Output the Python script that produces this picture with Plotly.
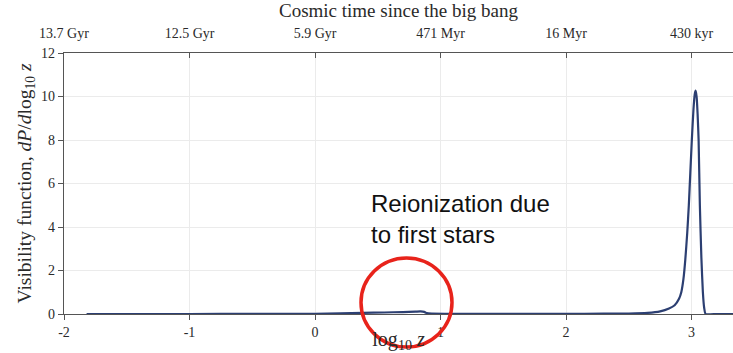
import plotly.graph_objects as go

# Visibility function vs log10 redshift
log_z = [-1.82, -1.5, -1.0, -0.5, 0.0, 0.2, 0.38, 0.55, 0.7, 0.8, 0.84, 0.87, 0.89, 0.93, 1.2, 1.5,
         2.0, 2.3, 2.5, 2.65, 2.75, 2.82, 2.865, 2.9, 2.918, 2.935, 2.95, 2.965, 2.978, 2.99,
         3.002, 3.015, 3.025, 3.032, 3.04, 3.048, 3.056, 3.066, 3.078, 3.09, 3.1, 3.112,
         3.2, 3.33]
visibility = [0.0, 0.0, 0.0, 0.005, 0.01, 0.03, 0.05, 0.07, 0.09, 0.11, 0.12, 0.1, 0.04, 0.02, 0.01, 0.01,
              0.01, 0.015, 0.02, 0.05, 0.12, 0.25, 0.4, 0.7, 1.0, 1.6, 2.5, 3.7, 5.0, 6.5,
              8.0, 9.4, 10.1, 10.27, 10.0, 9.2, 8.0, 5.0, 2.6, 1.0, 0.3, 0.0,
              0.0, 0.0]

# Axis ticks: redshift on the bottom, cosmic time on top
z_ticks = [-2, -1, 0, 1, 2, 3]
time_labels = ["13.7 Gyr", "12.5 Gyr", "5.9 Gyr", "471 Myr", "16 Myr", "430 kyr"]
y_ticks = [0, 2, 4, 6, 8, 10, 12]

x_range = [-2, 3.33]
serif = "Liberation Serif"
axis_col = "#555555"
grid_col = "#ebebeb"
text_col = "#2a2a2a"

fig = go.Figure()
fig.add_trace(go.Scatter(
    x=log_z, y=visibility, mode="lines",
    line=dict(color="#2c3f72", width=2.2, shape="spline", smoothing=0.5),
    showlegend=False, hoverinfo="skip",
))
# invisible trace to activate the top axis
fig.add_trace(go.Scatter(x=[x_range[0]], y=[0], xaxis="x2", mode="markers",
                         marker=dict(opacity=0), showlegend=False, hoverinfo="skip"))

fig.update_layout(
    width=733, height=353,
    margin=dict(l=64, r=0, t=53, b=39),
    plot_bgcolor="white", paper_bgcolor="white",
    font=dict(family=serif, color=text_col),
    xaxis=dict(
        range=x_range, tickvals=z_ticks, ticktext=[str(v) for v in z_ticks],
        showgrid=True, gridcolor=grid_col, gridwidth=1, zeroline=False,
        showline=True, linecolor=axis_col, linewidth=1.2,
        ticks="outside", ticklen=5, tickcolor=axis_col, automargin=False,
        tickfont=dict(size=14, family=serif),
        title=dict(text="log<sub>10</sub> <i>z</i>", font=dict(size=20, family=serif), standoff=2),
    ),
    xaxis2=dict(
        overlaying="x", side="top", range=x_range,
        tickvals=z_ticks, ticktext=time_labels,
        showgrid=False, zeroline=False,
        showline=True, linecolor=axis_col, linewidth=1.2,
        ticks="inside", ticklen=5, tickcolor=axis_col, automargin=False,
        ticklabelstandoff=8,
        tickfont=dict(size=14, family=serif),
        title=dict(text="Cosmic time since the big bang", font=dict(size=19, family=serif), standoff=3),
    ),
    yaxis=dict(
        range=[0, 12], tickvals=y_ticks,
        showgrid=True, gridcolor=grid_col, gridwidth=1, zeroline=False,
        showline=True, linecolor=axis_col, linewidth=1.2,
        ticks="outside", ticklen=5, tickcolor=axis_col, automargin=False,
        tickfont=dict(size=14, family=serif),
        title=dict(text="Visibility function, <i>dP</i>/<i>d</i>log<sub>10</sub> <i>z</i>",
                   font=dict(size=19.5, family=serif), standoff=4),
    ),
)

fig.add_annotation(
    xref="paper", yref="paper", x=(369 - 64) / 669, y=(314 - 188) / 261,
    xanchor="left", yanchor="top", align="left", showarrow=False,
    text="Reionization due<br>to first stars",
    font=dict(family="Liberation Sans", size=24, color="#111111"),
)

# red circle around the reionization bump
fig.add_shape(
    type="circle", xref="paper", yref="paper",
    x0=(361 - 64) / 669, x1=(452 - 64) / 669,
    y0=(314 - 347) / 261, y1=(314 - 258) / 261,
    line=dict(color="#e8231b", width=3.5),
)

fig.write_html("out.html")
